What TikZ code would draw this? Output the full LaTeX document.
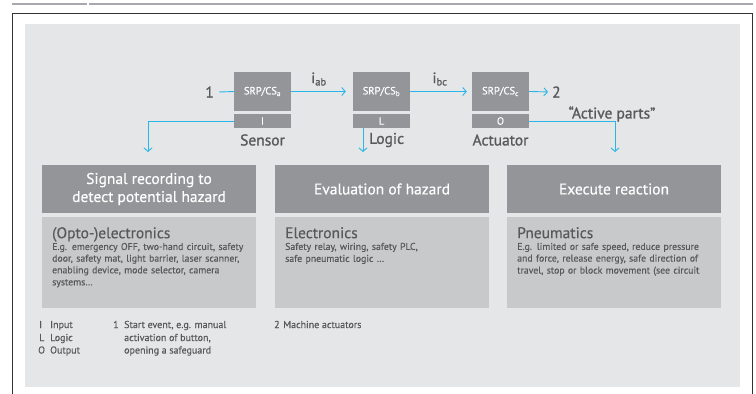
\documentclass[tikz,border=0pt]{standalone}
\usepackage{fontspec}
\setmainfont{PT Sans}[FakeBold=0.35]
\newfontface\medfont{PT Sans}[FakeBold=1.1]
\usetikzlibrary{arrows.meta}
\definecolor{hdr}{HTML}{939598}
\definecolor{bdy}{HTML}{C8C9CB}
\definecolor{bgc}{HTML}{E5E6E7}
\definecolor{txt}{HTML}{58595B}
\definecolor{cy}{HTML}{29B5E8}
\definecolor{frm}{HTML}{333333}
\definecolor{rule}{HTML}{A7A9AC}
\begin{document}
\begin{tikzpicture}[x=1pt,y=-1pt,
  srp/.style={fill=hdr,minimum width=57pt,minimum height=39pt,inner sep=0pt,text=white,font=\fontsize{10.5}{12}\selectfont},
  iobar/.style={fill=hdr,minimum width=57pt,minimum height=14pt,inner sep=0pt,text=white,font=\fontsize{10.5}{12}\selectfont},
  lbl/.style={text=txt,font=\medfont\fontsize{15.5}{17}\selectfont,inner sep=0pt},
  sig/.style={text=txt,font=\medfont\fontsize{15}{17}\selectfont,inner sep=0pt},
  flow/.style={draw=cy,line width=0.9pt,-{Straight Barb[length=3.5pt,width=8pt]}},
  plain/.style={draw=cy,line width=0.9pt},
  head/.style={fill=hdr,minimum width=214pt,minimum height=48pt,inner sep=0pt,text=white,align=center,font=\fontsize{15.5}{18}\selectfont},
  body/.style={fill=bdy,minimum width=214pt,minimum height=91pt,inner sep=0pt},
  btext/.style={anchor=north west,inner sep=0pt,text=txt,text width=205pt,align=left},
  foot/.style={anchor=base west,inner sep=0pt,text=txt,font=\fontsize{10}{12.5}\selectfont}
]
\useasboundingbox (0,0) rectangle (756,394);
\fill[white] (0,0) rectangle (756,394);
% top rule
\draw[rule,line width=1.3pt] (12,4) -- (87,4);
\draw[rule,line width=1.3pt] (88.5,4) -- (753,4);
% frame
\draw[frm,line width=0.9pt] (12,394) -- (12,13) -- (752,13) -- (752,394);
% background
\fill[bgc] (25,24) rectangle (740,387);

% SRP blocks
\node[srp] (sa) at (262.5,91.5) {SRP/CS\textsubscript{a}};
\node[iobar] (ia) at (262.5,121) {I};
\node[srp] (sb) at (381.5,91.5) {SRP/CS\textsubscript{b}};
\node[iobar] (ib) at (381.5,121) {L};
\node[srp] (sc) at (500.5,91.5) {SRP/CS\textsubscript{c}};
\node[iobar] (ic) at (500.5,121) {O};

\node[lbl] (sensor) at (262.5,140) {Sensor};
\node[lbl,anchor=west] (logic) at (369,140) {Logic};
\node[lbl] (actuator) at (500.5,140) {Actuator};
\node[lbl,anchor=east] (one) at (214,92) {1};
\node[lbl,anchor=west] (two) at (552,92) {2};
\node[lbl] (active) at (612,114) {“Active parts”};
\node[sig] (iab) at (319,79) {i\textsubscript{ab}};
\node[sig] (ibc) at (440,79) {i\textsubscript{bc}};

% boxes
\node[head] (h1) at (149,189) {Signal recording to\\detect potential hazard};
\node[body] (b1) at (149,262.5) {};
\node[head] (h2) at (382,189) {Evaluation of hazard};
\node[body] (b2) at (382,262.5) {};
\node[head] (h3) at (614,189) {Execute reaction};
\node[body] (b3) at (614,262.5) {};

\coordinate (ta) at (148,152);
\coordinate (tb) at (363,152);
\coordinate (tc) at (615,152);
\coordinate (lb) at (363,128);

% connectors
\draw[plain] (one.east) ++(5pt,0) -- (sa.west);
\draw[flow,shorten >=7pt] (sa.east) -- (sb.west);
\draw[flow,shorten >=5pt] (sb.east) -- (sc.west);
\draw[flow,shorten >=4pt] (sc.east) -- (two.west);
\draw[flow] (ia.west) -| (ta);
\draw[flow] (lb) -- (tb);
\draw[flow] (ic.east) -| (tc);

% body texts
\node[btext] (t1) at (52,227) {\fontsize{15.5}{17}\selectfont (Opto-)electronics\par
\fontsize{9.8}{11.7}\selectfont E.g. emergency OFF, two-hand circuit, safety\\door, safety mat, light barrier, laser scanner,\\enabling device, mode selector, camera\\systems…};
\node[btext] (t2) at (285,227) {\fontsize{15.5}{17}\selectfont Electronics\par
\fontsize{9.8}{11.7}\selectfont Safety relay, wiring, safety PLC,\\safe pneumatic logic …};
\node[btext] (t3) at (517,227) {\fontsize{15.5}{17}\selectfont Pneumatics\par
\fontsize{9.8}{11.7}\selectfont E.g. limited or safe speed, reduce pressure\\and force, release energy, safe direction of\\travel, stop or block movement (see circuit};

% footer
\node[foot] (fi) at (39,328) {I};
\node[foot] (fin) at (50,328) {Input};
\node[foot] (fl) at (39,341) {L};
\node[foot] (fln) at (50,341) {Logic};
\node[foot] (fo) at (38,353.5) {O};
\node[foot] (fon) at (50,353.5) {Output};
\node[foot] (f1) at (113,328) {1};
\node[foot] (f1t) at (124,328) {Start event, e.g. manual};
\node[foot] (f1u) at (124,341) {activation of button,};
\node[foot] (f1v) at (124,353.5) {opening a safeguard};
\node[foot] (f2) at (274,328) {2};
\node[foot] (f2t) at (283,328) {Machine actuators};
\end{tikzpicture}
\end{document}
